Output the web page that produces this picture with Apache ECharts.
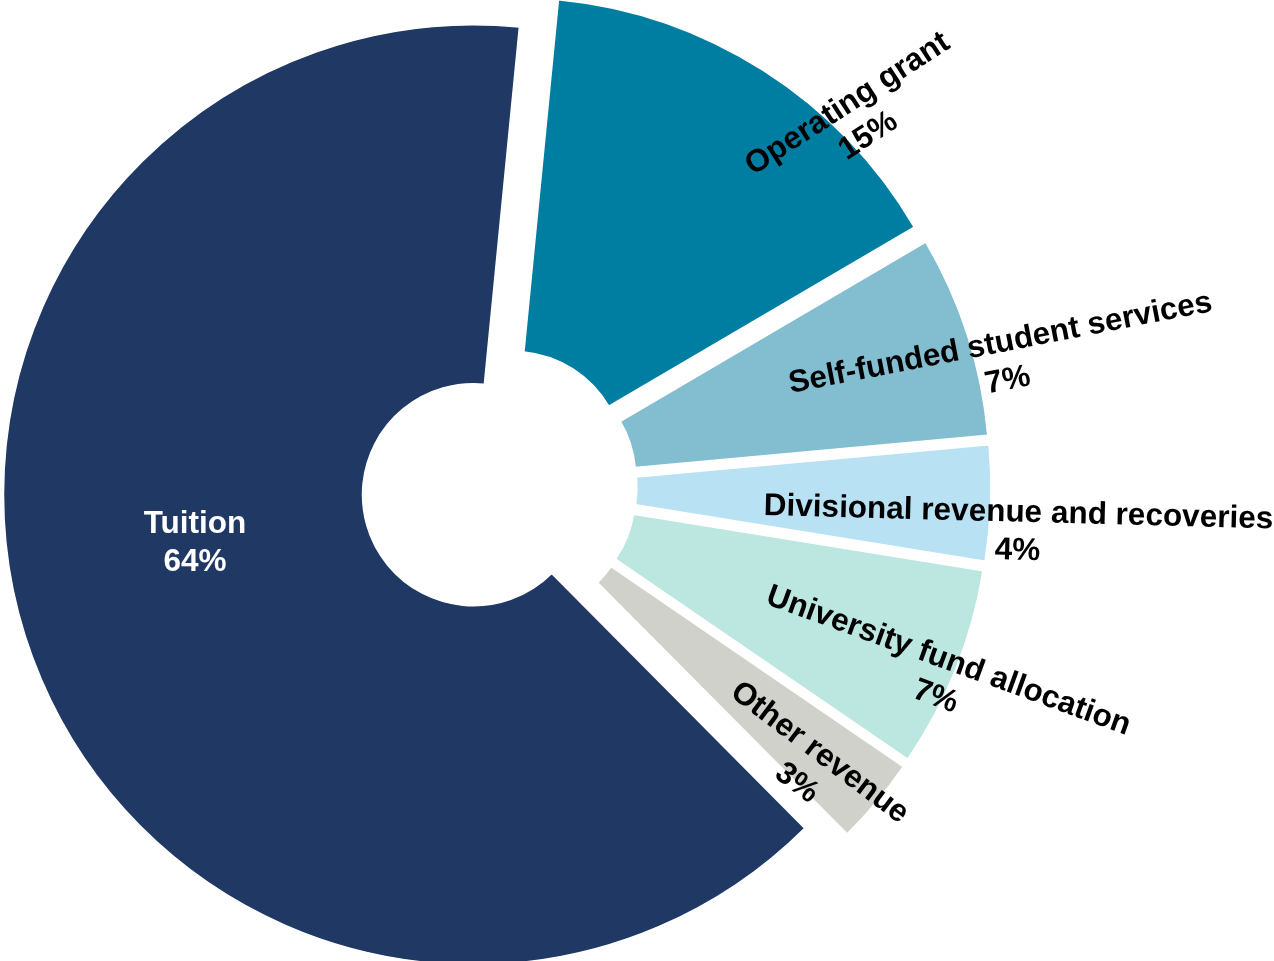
<!DOCTYPE html>
<html>
<head>
<meta charset="utf-8">
<script src="https://cdn.jsdelivr.net/npm/echarts@6/dist/echarts.min.js"></script>
<style>
  html, body { margin: 0; padding: 0; background: #ffffff; }
  #chart { width: 1274px; height: 961px; }
</style>
</head>
<body>
<div id="chart"></div>
<script>
// ---- data ----
const categories = [
  'Operating grant',
  'Self-funded student services',
  'Divisional revenue and recoveries',
  'University fund allocation',
  'Other revenue',
  'Tuition'
];
const shares = [15, 7, 4, 7, 3, 64];

// ---- styling (kept separate from the data) ----
const sliceColors = ['#007EA2', '#82BDD0', '#B8E2F3', '#BCE6E0', '#D0D1CA', '#1F3864'];
const labelColors = ['#000000', '#000000', '#000000', '#000000', '#000000', '#ffffff'];
// label centre (px) and rotation (deg) for each slice label
const labelPlacement = [
  { x: 858,  y: 120, rotate: 33 },
  { x: 1004, y: 362, rotate: 11 },
  { x: 1018, y: 532, rotate: -1.5 },
  { x: 942,  y: 679, rotate: -20 },
  { x: 808,  y: 768, rotate: -37 },
  { x: 195,  y: 543, rotate: 0 }
];

const PIE_CENTER = [498, 486];
const START_ANGLE = 84.4;
const TRANSPARENT = 'rgba(0,0,0,0)';

const chart = echarts.init(document.getElementById('chart'), null, { renderer: 'canvas' });

// build a pie series showing only slices for which `visible(i)` is true
function slicesSeries(visible, outerRadius, offset) {
  return {
    type: 'pie',
    center: PIE_CENTER,
    radius: [111, outerRadius],
    startAngle: START_ANGLE,
    clockwise: true,
    selectedMode: 'multiple',
    selectedOffset: offset,
    silent: true,
    label: { show: false },
    labelLine: { show: false },
    emphasis: { disabled: true },
    data: categories.map((name, i) => ({
      name: name,
      value: shares[i],
      selected: visible(i),
      itemStyle: visible(i)
        ? { color: sliceColors[i], borderColor: '#ffffff', borderWidth: 1.5 }
        : { color: TRANSPARENT, borderWidth: 0 }
    }))
  };
}

const tuitionIndex = categories.indexOf('Tuition');

chart.setOption({
  animation: false,
  backgroundColor: '#ffffff',
  series: [
    slicesSeries(i => i === tuitionIndex, 470, 26),
    slicesSeries(i => i !== tuitionIndex, 465, 28),
    {
      // label layer
      type: 'pie',
      center: PIE_CENTER,
      radius: [111, 465],
      startAngle: START_ANGLE,
      clockwise: true,
      silent: true,
      avoidLabelOverlap: false,
      z: 5,
      itemStyle: { color: TRANSPARENT, borderWidth: 0 },
      label: {
        show: true,
        position: 'inside',
        formatter: '{b}\n{d}%',
        fontFamily: 'Liberation Sans, Arial, sans-serif',
        fontWeight: 'bold',
        fontSize: 31.5,
        lineHeight: 38,
        align: 'center'
      },
      labelLine: { show: false },
      emphasis: { disabled: true },
      labelLayout: function (params) {
        const p = labelPlacement[params.dataIndex];
        return { x: p.x, y: p.y, rotate: p.rotate, align: 'center', verticalAlign: 'middle' };
      },
      data: categories.map((name, i) => ({
        name: name,
        value: shares[i],
        label: { color: labelColors[i] }
      }))
    }
  ]
});
</script>
</body>
</html>
